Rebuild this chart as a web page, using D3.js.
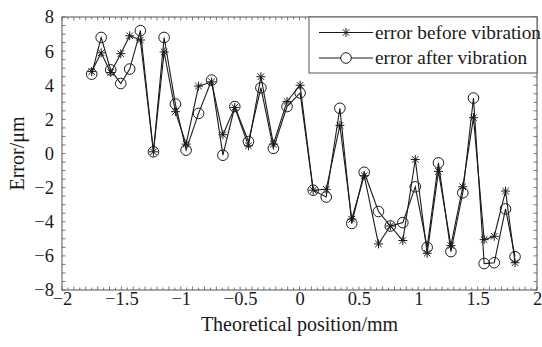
<!DOCTYPE html>
<html>
<head>
<meta charset="utf-8">
<script src="https://cdn.jsdelivr.net/npm/d3@7"></script>
<style>
  body { margin: 0; background: #fff; }
  svg { display: block; font-family: "Liberation Serif", "DejaVu Serif", serif; }
</style>
</head>
<body>
<div id="chart"></div>
<script>
// positions (mm) shared by both series
const positions = [-1.75, -1.67, -1.59, -1.505, -1.43, -1.34, -1.23, -1.14, -1.045, -0.955,
  -0.85, -0.74, -0.645, -0.545, -0.43, -0.325, -0.22, -0.105, 0.005, 0.115,
  0.225, 0.34, 0.44, 0.545, 0.665, 0.765, 0.87, 0.975, 1.075, 1.17,
  1.275, 1.375, 1.465, 1.555, 1.64, 1.735, 1.815];
const errorBefore = [4.8, 5.9, 4.75, 5.85, 6.9, 6.65, 0.1, 5.95, 2.45, 0.55,
  3.95, 4.2, 1.1, 2.7, 0.45, 4.5, 0.55, 3.05, 4.0, -2.15,
  -2.1, 1.65, -3.85, -1.3, -5.3, -4.25, -5.1, -0.35, -5.85, -1.05,
  -5.4, -1.95, 2.1, -5.05, -4.85, -2.2, -6.4];
const errorAfter = [4.65, 6.8, 4.9, 4.1, 4.95, 7.2, 0.1, 6.8, 2.9, 0.2,
  2.35, 4.3, -0.1, 2.75, 0.7, 3.85, 0.3, 2.75, 3.55, -2.15,
  -2.55, 2.65, -4.1, -1.1, -3.4, -4.25, -4.05, -1.95, -5.5, -0.55,
  -5.75, -2.3, 3.25, -6.45, -6.4, -3.25, -6.05];
const xTicks = [-2, -1.5, -1, -0.5, 0, 0.5, 1, 1.5, 2];
const yTicks = [-8, -6, -4, -2, 0, 2, 4, 6, 8];
const legendLabels = ['error before vibration', 'error after vibration'];

const width = 542, height = 347;
const margin = { top: 17, right: 5, bottom: 57, left: 62 };
const ink = '#1a1a1a';

const svg = d3.select('#chart').append('svg')
  .attr('width', width)
  .attr('height', height);

const x = d3.scaleLinear().domain([-2, 2]).range([margin.left, width - margin.right]);
const y = d3.scaleLinear().domain([-8, 8]).range([height - margin.bottom, margin.top]);

const fmt = d => (d < 0 ? '\u2212' : '') + Math.abs(d);

// minor ticks on all four sides, pointing in
const xMinor = d3.range(-2, 2.001, 0.05);
const yMinor = d3.range(-8, 8.001, 0.5);
const tickG = svg.append('g').attr('stroke', '#555').attr('stroke-width', 0.8);
xMinor.forEach((v, i) => {
  const len = i % 2 === 0 ? 3.5 : 2.5;
  tickG.append('line').attr('x1', x(v)).attr('x2', x(v))
    .attr('y1', y(-8)).attr('y2', y(-8) - len);
  tickG.append('line').attr('x1', x(v)).attr('x2', x(v))
    .attr('y1', y(8)).attr('y2', y(8) + len);
});
yMinor.forEach(v => {
  tickG.append('line').attr('x1', x(-2)).attr('x2', x(-2) + 3.5)
    .attr('y1', y(v)).attr('y2', y(v));
  tickG.append('line').attr('x1', x(2)).attr('x2', x(2) - 3.5)
    .attr('y1', y(v)).attr('y2', y(v));
});

// frame
svg.append('rect')
  .attr('x', x(-2)).attr('y', y(8))
  .attr('width', x(2) - x(-2)).attr('height', y(-8) - y(8))
  .attr('fill', 'none').attr('stroke', '#555').attr('stroke-width', 1);

// tick labels
const xAxis = d3.axisBottom(x).tickValues(xTicks).tickFormat(fmt).tickSize(0).tickPadding(2);
const gx = svg.append('g').attr('transform', `translate(0,${y(-8)})`).call(xAxis);
gx.select('.domain').remove();
gx.selectAll('text').attr('font-size', 18.5).attr('fill', ink)
  .attr('font-family', '"Liberation Serif", serif');

const yAxis = d3.axisLeft(y).tickValues(yTicks).tickFormat(fmt).tickSize(0).tickPadding(8);
const gy = svg.append('g').attr('transform', `translate(${x(-2)},0)`).call(yAxis);
gy.select('.domain').remove();
gy.selectAll('text').attr('font-size', 18.5).attr('fill', ink)
  .attr('font-family', '"Liberation Serif", serif');

// axis titles
svg.append('text')
  .attr('x', (x(-2) + x(2)) / 2).attr('y', 331)
  .attr('text-anchor', 'middle').attr('font-size', 20).attr('fill', ink)
  .text('Theoretical position/mm');
svg.append('text')
  .attr('transform', `translate(24,${(y(8) + y(-8)) / 2}) rotate(-90)`)
  .attr('text-anchor', 'middle').attr('font-size', 20).attr('fill', ink)
  .text('Error/\u03bcm');

// series
const before = positions.map((p, i) => ({ x: p, y: errorBefore[i] }));
const after = positions.map((p, i) => ({ x: p, y: errorAfter[i] }));
const line = d3.line().x(d => x(d.x)).y(d => y(d.y));

const plot = svg.append('g').attr('class', 'plot-container');
plot.append('path').datum(after).attr('d', line)
  .attr('fill', 'none').attr('stroke', ink).attr('stroke-width', 1.1);
plot.append('path').datum(before).attr('d', line)
  .attr('fill', 'none').attr('stroke', ink).attr('stroke-width', 1.1);

const star = (g, cx, cy, r) => {
  const d = r * 0.72;
  g.append('path')
    .attr('d', `M${cx - r},${cy}H${cx + r}M${cx},${cy - r}V${cy + r}` +
      `M${cx - d},${cy - d}L${cx + d},${cy + d}M${cx - d},${cy + d}L${cx + d},${cy - d}`)
    .attr('stroke', ink).attr('stroke-width', 1).attr('fill', 'none');
};

plot.selectAll('circle.after')
  .data(after)
  .join('circle')
  .attr('class', 'after')
  .attr('cx', d => x(d.x))
  .attr('cy', d => y(d.y))
  .attr('r', 5.3)
  .attr('fill', 'none')
  .attr('stroke', ink)
  .attr('stroke-width', 1);

const starG = plot.append('g');
before.forEach(d => star(starG, x(d.x), y(d.y), 4.5));

// legend
const lg = svg.append('g');
const lx = 309, ly = y(8), lw = x(2) - lx, lh = 56;
lg.append('rect').attr('x', lx).attr('y', ly).attr('width', lw).attr('height', lh)
  .attr('fill', '#fff').attr('stroke', '#555').attr('stroke-width', 1);
[32.5, 58].forEach((yy, i) => {
  lg.append('line').attr('x1', 319).attr('x2', 373).attr('y1', yy).attr('y2', yy)
    .attr('stroke', ink).attr('stroke-width', 1);
  if (i === 0) star(lg, 346, yy, 4.5);
  else lg.append('circle').attr('cx', 346).attr('cy', yy).attr('r', 5.3)
    .attr('fill', '#fff').attr('stroke', ink).attr('stroke-width', 1);
  lg.append('text').attr('x', 375).attr('y', yy + 6)
    .attr('font-size', 19.3).attr('fill', ink).text(legendLabels[i]);
});
</script>
</body>
</html>
